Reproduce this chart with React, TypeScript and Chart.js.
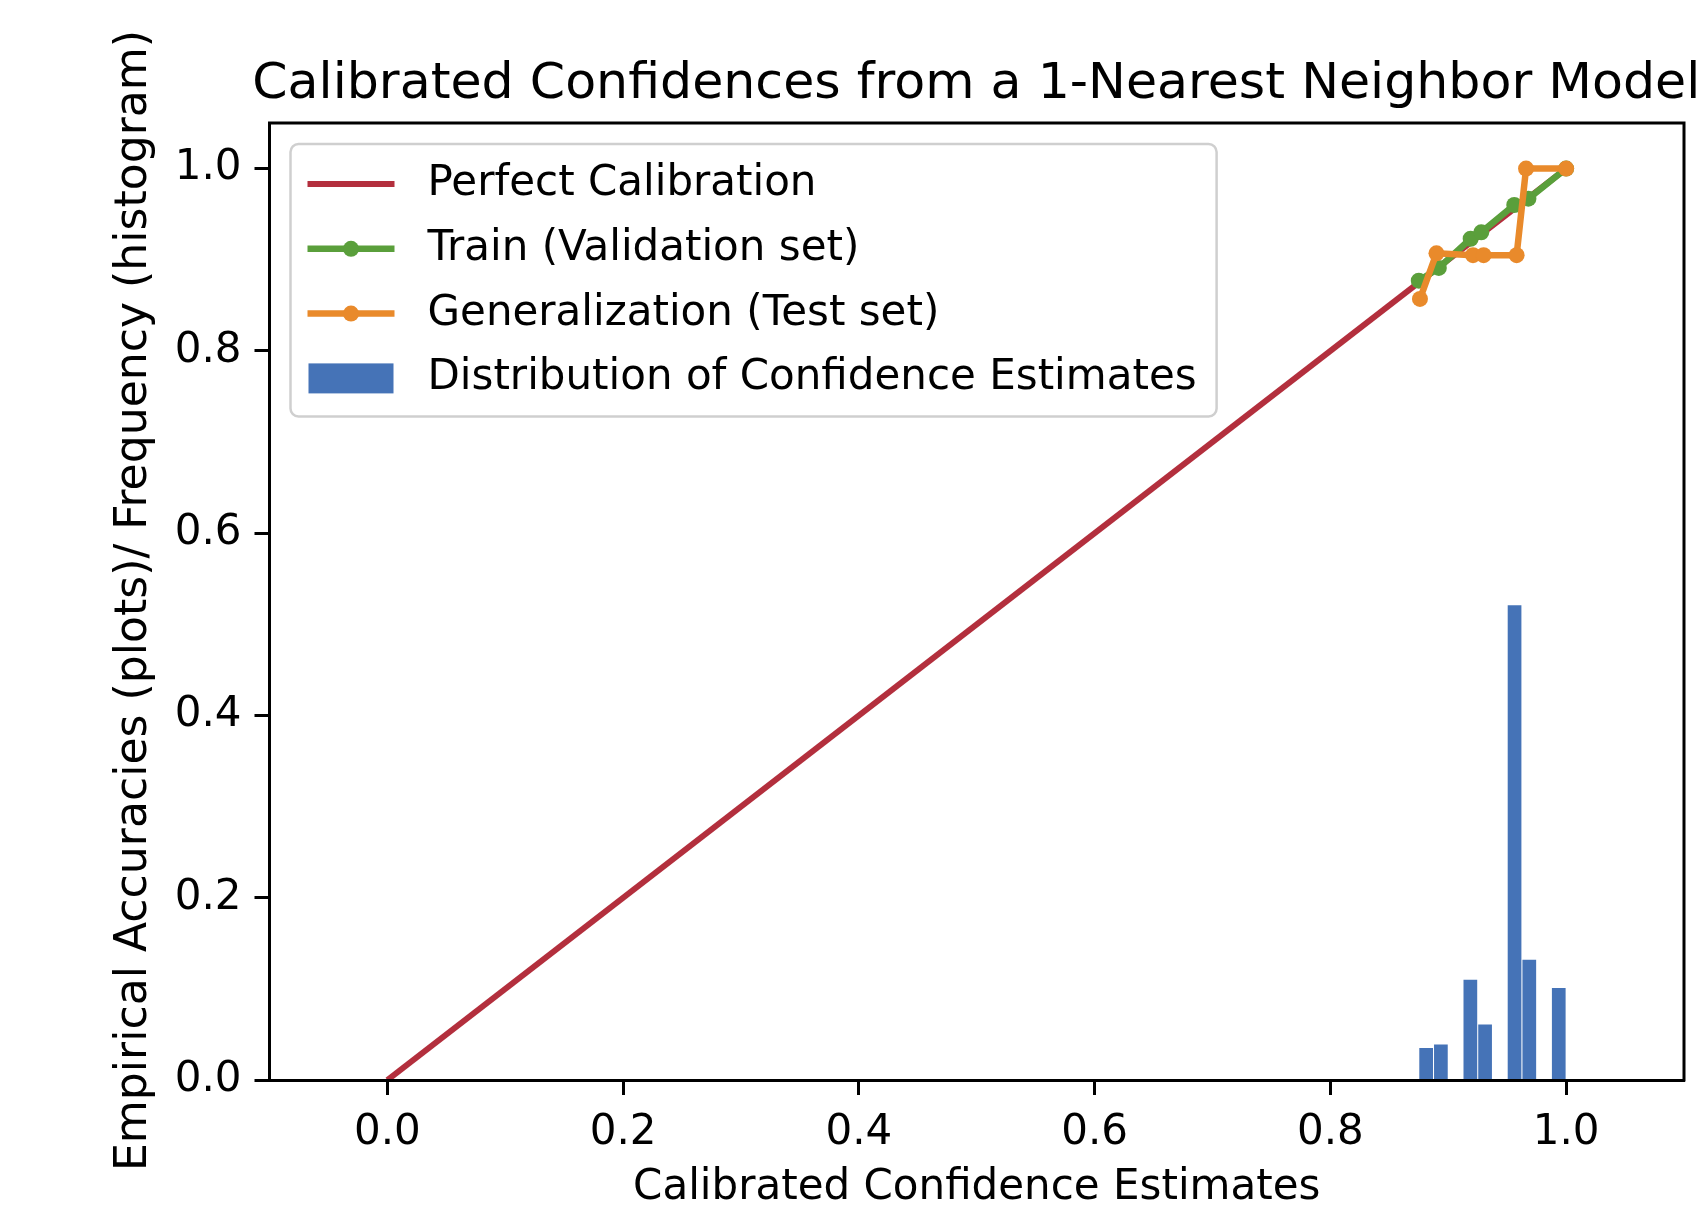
import { useEffect, useRef } from "react";
import { Chart, registerables } from "chart.js";

Chart.register(...registerables);

const TITLE = "Calibrated Confidences from a 1-Nearest Neighbor Model";
const X_LABEL = "Calibrated Confidence Estimates";
const Y_LABEL = "Empirical Accuracies (plots)/ Frequency (histogram)";

const X_TICKS = [0, 0.2, 0.4, 0.6, 0.8, 1.0];
const Y_TICKS = [0, 0.2, 0.4, 0.6, 0.8, 1.0];
const X_MIN = -0.1;
const X_MAX = 1.1;
const Y_MIN = 0;
const Y_MAX = 1.05;

const PERFECT_X = [0, 1];
const PERFECT_Y = [0, 1];

const TRAIN_X = [0.875, 0.892, 0.919, 0.928, 0.956, 0.968, 1.0];
const TRAIN_Y = [0.877, 0.891, 0.923, 0.93, 0.96, 0.967, 1.0];

const TEST_X = [0.876, 0.89, 0.921, 0.93, 0.958, 0.966, 1.0];
const TEST_Y = [0.857, 0.907, 0.905, 0.905, 0.905, 1.0, 1.0];

const HIST_BIN_CENTERS = [0.88125, 0.89375, 0.90625, 0.91875, 0.93125, 0.94375, 0.95625, 0.96875, 0.98125, 0.99375];
const HIST_FREQ = [0.035, 0.039, 0, 0.11, 0.061, 0, 0.521, 0.132, 0, 0.101];

const SERIES_LABELS = [
  "Perfect Calibration",
  "Train (Validation set)",
  "Generalization (Test set)",
  "Distribution of Confidence Estimates",
];

const RED = "#b32f3d";
const GREEN = "#5a9f3b";
const ORANGE = "#e98a2b";
const BLUE = "#4573b7";
const FONT = '"DejaVu Sans", "Liberation Sans", sans-serif';

const W = 1705;
const H = 1209;

const zip = (xs: number[], ys: number[]) => xs.map((x, i) => ({ x, y: ys[i] }));

const mplPlugin = {
  id: "mplExtras",
  afterDraw(chart: any) {
    const { ctx, chartArea } = chart;
    const { left, right, top, bottom } = chartArea;
    ctx.save();

    // top & right spines
    ctx.strokeStyle = "#000";
    ctx.lineWidth = 3;
    ctx.lineCap = "square";
    ctx.beginPath();
    ctx.moveTo(left, top);
    ctx.lineTo(right, top);
    ctx.lineTo(right, bottom);
    ctx.stroke();

    // title
    ctx.fillStyle = "#000";
    ctx.font = `50.6px ${FONT}`;
    ctx.textAlign = "center";
    ctx.textBaseline = "alphabetic";
    ctx.fillText(TITLE, (left + right) / 2 - 0.5, top - 25.5);

    // y label
    ctx.save();
    ctx.translate(146, (top + bottom) / 2 - 1);
    ctx.rotate(-Math.PI / 2);
    ctx.font = `44.1px ${FONT}`;
    ctx.textAlign = "center";
    ctx.textBaseline = "alphabetic";
    ctx.fillText(Y_LABEL, 0, 0);
    ctx.restore();

    // legend
    const ds = chart.data.datasets;
    const order = [0, 1, 2, 3];
    ctx.font = `42px ${FONT}`;
    let maxW = 0;
    order.forEach((i) => {
      maxW = Math.max(maxW, ctx.measureText(ds[i].label).width);
    });
    const bx = left + 21;
    const by = top + 21;
    const handleX0 = bx + 17;
    const handleX1 = handleX0 + 87;
    const textX = handleX1 + 33;
    const bw = textX - bx + maxW + 20;
    const firstY = by + 40;
    const step = 64.8;
    const bh = 40 + step * 3 + 38;
    ctx.beginPath();
    if ((ctx as any).roundRect) {
      (ctx as any).roundRect(bx, by, bw, bh, 8);
    } else {
      ctx.rect(bx, by, bw, bh);
    }
    ctx.fillStyle = "rgba(255,255,255,0.85)";
    ctx.fill();
    ctx.strokeStyle = "#cfcfcf";
    ctx.lineWidth = 2.5;
    ctx.stroke();

    order.forEach((i, k) => {
      const d = ds[i];
      const cy = firstY + k * step;
      if (d.type === "bar") {
        ctx.fillStyle = d.backgroundColor;
        ctx.fillRect(handleX0 + 1, cy - 15, 85, 30);
      } else {
        ctx.strokeStyle = d.borderColor;
        ctx.lineWidth = d.borderWidth;
        ctx.lineCap = "butt";
        ctx.beginPath();
        ctx.moveTo(handleX0, cy);
        ctx.lineTo(handleX1, cy);
        ctx.stroke();
        if (d.pointRadius > 0) {
          ctx.fillStyle = d.borderColor;
          ctx.beginPath();
          ctx.arc((handleX0 + handleX1) / 2, cy, d.pointRadius, 0, Math.PI * 2);
          ctx.fill();
        }
      }
      ctx.fillStyle = "#000";
      ctx.textAlign = "left";
      ctx.textBaseline = "middle";
      ctx.fillText(d.label, textX, cy);
    });

    ctx.restore();
  },
};

export default function App() {
  const ref = useRef<HTMLCanvasElement>(null);

  useEffect(() => {
    const canvas = ref.current;
    if (!canvas) return;

    const tickFont = { family: FONT, size: 42, lineHeight: 1.2 };

    const chart = new Chart(canvas, {
      type: "bar",
      data: {
        datasets: [
          {
            type: "line",
            label: SERIES_LABELS[0],
            data: zip(PERFECT_X, PERFECT_Y),
            borderColor: RED,
            backgroundColor: RED,
            borderWidth: 6,
            pointRadius: 0,
            tension: 0,
            order: 3,
          },
          {
            type: "line",
            label: SERIES_LABELS[1],
            data: zip(TRAIN_X, TRAIN_Y),
            borderColor: GREEN,
            backgroundColor: GREEN,
            pointBackgroundColor: GREEN,
            pointBorderWidth: 0,
            borderWidth: 6.5,
            pointRadius: 8,
            borderJoinStyle: "round",
            tension: 0,
            order: 2,
          },
          {
            type: "line",
            label: SERIES_LABELS[2],
            data: zip(TEST_X, TEST_Y),
            borderColor: ORANGE,
            backgroundColor: ORANGE,
            pointBackgroundColor: ORANGE,
            pointBorderWidth: 0,
            borderWidth: 6.5,
            pointRadius: 8,
            borderJoinStyle: "round",
            tension: 0,
            order: 1,
          },
          {
            type: "bar",
            label: SERIES_LABELS[3],
            data: zip(HIST_BIN_CENTERS, HIST_FREQ),
            backgroundColor: BLUE,
            borderWidth: 0,
            barPercentage: 0.93,
            categoryPercentage: 1,
            order: 4,
          },
        ] as any,
      },
      options: {
        responsive: false,
        animation: false,
        devicePixelRatio: 1,
        layout: { padding: { top: 123, right: 21, bottom: 0, left: 0 } },
        plugins: {
          legend: { display: false },
          title: { display: false },
          tooltip: { enabled: false },
        },
        scales: {
          x: {
            type: "linear",
            min: X_MIN,
            max: X_MAX,
            offset: false,
            afterFit: (s: any) => {
              s.height = 129;
            },
            afterBuildTicks: (s: any) => {
              s.ticks = X_TICKS.map((v) => ({ value: v }));
            },
            grid: {
              display: true,
              drawOnChartArea: false,
              drawTicks: true,
              tickLength: 15,
              tickWidth: 3,
              tickColor: "#000",
              offset: false,
            },
            border: { display: true, color: "#000", width: 3, z: 1 },
            ticks: {
              font: tickFont,
              color: "#000",
              padding: 13,
              maxRotation: 0,
              autoSkip: false,
              callback: (v: any) => Number(v).toFixed(1),
            },
            title: {
              display: true,
              text: X_LABEL,
              color: "#000",
              font: { family: FONT, size: 42, lineHeight: 1 },
              padding: { top: 0, bottom: 0 },
            },
          },
          y: {
            type: "linear",
            min: Y_MIN,
            max: Y_MAX,
            afterFit: (s: any) => {
              s.width = 269.5;
            },
            afterBuildTicks: (s: any) => {
              s.ticks = Y_TICKS.map((v) => ({ value: v }));
            },
            grid: {
              display: true,
              drawOnChartArea: false,
              drawTicks: true,
              tickLength: 15,
              tickWidth: 3,
              tickColor: "#000",
            },
            border: { display: true, color: "#000", width: 3, z: 1 },
            ticks: {
              font: tickFont,
              color: "#000",
              padding: 13,
              autoSkip: false,
              callback: (v: any) => Number(v).toFixed(1),
            },
          },
        },
      } as any,
      plugins: [mplPlugin],
    });

    return () => chart.destroy();
  }, []);

  return (
    <div style={{ position: "absolute", left: 0, top: 0, width: W, height: H, background: "#fff" }}>
      <canvas ref={ref} width={W} height={H} style={{ display: "block", width: W, height: H }} />
    </div>
  );
}
